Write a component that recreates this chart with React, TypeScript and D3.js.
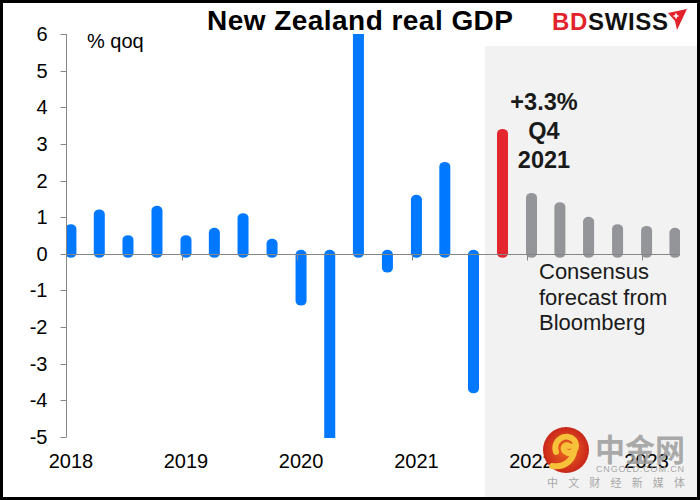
import React, { useEffect, useRef } from 'react';
import * as d3 from 'd3';

// quarterly GDP, % q/q
const quarters = [
  '2018Q1', '2018Q2', '2018Q3', '2018Q4',
  '2019Q1', '2019Q2', '2019Q3', '2019Q4',
  '2020Q1', '2020Q2', '2020Q3', '2020Q4',
  '2021Q1', '2021Q2', '2021Q3', '2021Q4',
  '2022Q1', '2022Q2', '2022Q3', '2022Q4',
  '2023Q1', '2023Q2',
];
const actual = [0.7, 1.1, 0.4, 1.2, 0.4, 0.6, 1.0, 0.3, -1.3, -11.0, 13.9, -0.4, 1.5, 2.4, -3.7];
const latest = 3.3;
const forecast = [1.55, 1.3, 0.9, 0.7, 0.65, 0.6];
const yTicks = [-5, -4, -3, -2, -1, 0, 1, 2, 3, 4, 5, 6];
const years = ['2018', '2019', '2020', '2021', '2022', '2023'];

const FONT = "'Liberation Sans', Arial, sans-serif";
const AXIS = '#868686';

// a quarter sits mid-way through its first month
const qDate = (q: string) => new Date(+q.slice(0, 4), (+q[5] - 1) * 3, 15);

const App = () => {
  const svgRef = useRef<SVGSVGElement>(null);

  useEffect(() => {
    const svg = d3.select(svgRef.current);
    svg.selectAll('*').remove();

    const x = d3
      .scaleTime()
      .domain([new Date(2018, 0, 1), new Date(2023, 4, 1)])
      .range([66.5, 680]);
    const y = d3.scaleLinear().domain([-5, 6]).range([437, 34]);

    svg.append('rect').attr('width', 700).attr('height', 500).attr('fill', '#fff');

    // forecast shading
    svg.append('rect')
      .attr('x', 485).attr('y', 46)
      .attr('width', 212).attr('height', 451)
      .attr('fill', '#f2f2f2');

    svg.append('rect')
      .attr('x', 1.5).attr('y', 1.5)
      .attr('width', 697).attr('height', 497)
      .attr('fill', 'none').attr('stroke', '#000').attr('stroke-width', 3);

    svg.append('text')
      .attr('x', 360).attr('y', 30)
      .attr('text-anchor', 'middle')
      .attr('font-family', FONT).attr('font-weight', 'bold').attr('font-size', 28)
      .attr('textLength', 306).attr('lengthAdjust', 'spacing')
      .text('New Zealand real GDP');

    // logo
    const logo = svg.append('text')
      .attr('x', 552).attr('y', 29.5)
      .attr('font-family', FONT).attr('font-weight', 'bold').attr('font-size', 24)
      .attr('textLength', 116).attr('lengthAdjust', 'spacing');
    logo.append('tspan').attr('fill', '#e3232b').text('BD');
    logo.append('tspan').attr('fill', '#111').text('SWISS');
    svg.append('path')
      .attr('d', 'M668,13 L687,9 L677,30 L675,21 Z')
      .attr('fill', '#e3232b');
    svg.append('path')
      .attr('d', 'M673.5,16 h5 M676,13.5 v5')
      .attr('stroke', '#fff').attr('stroke-width', 1.6);

    const clip = svg.append('defs').append('clipPath').attr('id', 'plot');
    clip.append('rect').attr('x', 66.5).attr('y', 34).attr('width', 613.5).attr('height', 404);

    const bars = [
      ...actual.map((v, i) => ({ q: quarters[i], v, c: '#0078ff' })),
      { q: quarters[actual.length], v: latest, c: '#e4262f' },
      ...forecast.map((v, i) => ({ q: quarters[actual.length + 1 + i], v, c: '#949598' })),
    ];

    svg.append('g')
      .attr('clip-path', 'url(#plot)')
      .selectAll('rect')
      .data(bars)
      .enter()
      .append('rect')
      .attr('x', (d) => x(qDate(d.q)) - 5.5)
      .attr('width', 11)
      .attr('y', (d) => Math.min(y(d.v), y(0)) - 4)
      .attr('height', (d) => Math.abs(y(d.v) - y(0)) + 8)
      .attr('rx', 5.5).attr('ry', 4.5)
      .attr('fill', (d) => d.c);

    // y axis
    const yAxis = svg.append('g').attr('transform', 'translate(66.5,0)');
    yAxis.append('line').attr('y1', y(6)).attr('y2', y(-5)).attr('stroke', AXIS);
    yAxis.selectAll('.tick')
      .data(yTicks)
      .enter()
      .append('line')
      .attr('x1', -6).attr('x2', 0)
      .attr('y1', (d) => Math.round(y(d)) + 0.5)
      .attr('y2', (d) => Math.round(y(d)) + 0.5)
      .attr('stroke', AXIS);
    svg.append('g')
      .selectAll('text')
      .data(yTicks)
      .enter()
      .append('text')
      .attr('x', 47.5)
      .attr('y', (d) => y(d) + 7)
      .attr('text-anchor', 'end')
      .attr('font-family', FONT).attr('font-size', 20)
      .text((d) => d);

    // x axis along zero
    const y0 = Math.round(y(0)) + 0.5;
    svg.append('line')
      .attr('x1', 66.5).attr('x2', 680)
      .attr('y1', y0).attr('y2', y0)
      .attr('stroke', AXIS);
    svg.append('g')
      .selectAll('line')
      .data(years.slice(1))
      .enter()
      .append('line')
      .attr('x1', (d) => Math.round(x(new Date(+d, 0, 1))) + 0.5)
      .attr('x2', (d) => Math.round(x(new Date(+d, 0, 1))) + 0.5)
      .attr('y1', y0).attr('y2', y0 + 6)
      .attr('stroke', AXIS);
    svg.append('g')
      .selectAll('text')
      .data(years)
      .enter()
      .append('text')
      .attr('x', (d) => x(qDate(d + 'Q1')))
      .attr('y', 468)
      .attr('text-anchor', 'middle')
      .attr('font-family', FONT).attr('font-size', 20)
      .text((d) => d);

    svg.append('text')
      .attr('x', 87).attr('y', 48)
      .attr('font-family', FONT).attr('font-size', 20)
      .text('% qoq');

    // latest print call-out
    svg.append('g')
      .selectAll('text')
      .data([`+${latest}%`, 'Q4', '2021'])
      .enter()
      .append('text')
      .attr('x', 544)
      .attr('y', (d, i) => 110 + i * 29)
      .attr('text-anchor', 'middle')
      .attr('font-family', FONT).attr('font-weight', 'bold').attr('font-size', 23.5)
      .attr('fill', '#1a1a1a')
      .text((d) => d);

    svg.append('g')
      .selectAll('text')
      .data(['Consensus', 'forecast from', 'Bloomberg'])
      .enter()
      .append('text')
      .attr('x', 539)
      .attr('y', (d, i) => 279 + i * 25.5)
      .attr('font-family', FONT).attr('font-size', 22)
      .attr('fill', '#1a1a1a')
      .text((d) => d);

    // watermark
    const wm = svg.append('g');
    const grad = svg.select('defs').append('radialGradient').attr('id', 'wmg');
    grad.append('stop').attr('offset', '0%').attr('stop-color', '#f06a1e');
    grad.append('stop').attr('offset', '100%').attr('stop-color', '#c9261b');
    wm.append('circle').attr('cx', 566).attr('cy', 450).attr('r', 23).attr('fill', 'url(#wmg)');
    wm.append('path')
      .attr('d', 'M556,452 C552,440 566,432 574,440 C580,447 572,456 566,452 C561,449 565,443 569,446 M574,446 C576,458 566,468 552,466')
      .attr('fill', 'none').attr('stroke', '#f7c23a').attr('stroke-width', 6).attr('stroke-linecap', 'round');
    wm.append('text')
      .attr('x', 595).attr('y', 461)
      .attr('font-family', "'Noto Sans CJK SC', sans-serif").attr('font-weight', 'bold').attr('font-size', 31)
      .attr('textLength', 90).attr('lengthAdjust', 'spacingAndGlyphs')
      .attr('fill', '#9c9c9c').attr('fill-opacity', 0.85)
      .text('中金网');
    wm.append('text')
      .attr('x', 596).attr('y', 471.5)
      .attr('font-family', FONT).attr('font-size', 9)
      .attr('textLength', 88).attr('lengthAdjust', 'spacing')
      .attr('fill', '#a8a8a8')
      .text('CNGOLD.COM.CN');
    wm.append('text')
      .attr('x', 547).attr('y', 487)
      .attr('font-family', "'Noto Sans CJK SC', sans-serif").attr('font-size', 11)
      .attr('textLength', 138).attr('lengthAdjust', 'spacing')
      .attr('fill', '#a8a8a8')
      .text('中文财经新媒体');
  }, []);

  return (
    <svg
      ref={svgRef}
      width={700}
      height={500}
      style={{ position: 'absolute', left: 0, top: 0, display: 'block' }}
    />
  );
};

export default App;
